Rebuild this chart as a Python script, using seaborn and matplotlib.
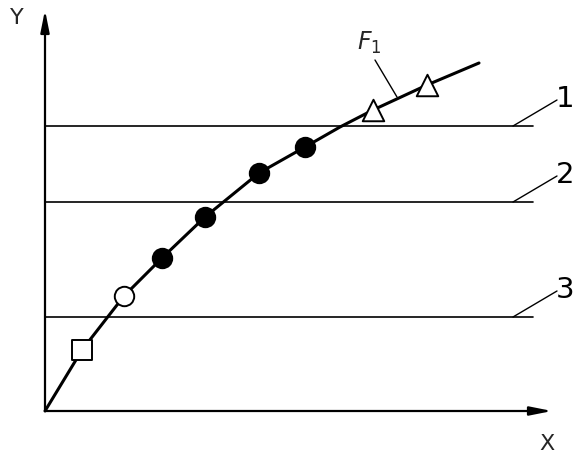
import matplotlib
matplotlib.use("Agg")
import matplotlib.pyplot as plt
import seaborn as sns
import pandas as pd

# Curve F1 (x, y in drawing units, origin at the axes corner)
curve_x = [0, 37, 79, 117, 160, 214, 260, 295, 328, 382, 434]
curve_y = [0, 61, 115, 153, 194, 238, 264, 284, 301, 326, 348]

# Marked points on the curve
square_x, square_y = [37], [61]
circle_x, circle_y = [79], [115]
dot_x = [117, 160, 214, 260]
dot_y = [153, 194, 238, 264]
tri_x = [328, 382]
tri_y = [301, 326]

# Horizontal levels and their labels
level_y = [285, 209, 94]
level_labels = ["1", "2", "3"]
level_x_end = 488

sns.set_style("white")
plt.rcParams["font.family"] = ["Liberation Sans Narrow", "DejaVu Sans"]

fig = plt.figure(figsize=(5.73, 4.55), dpi=100)
ax = fig.add_axes([0, 0, 1, 1])
ax.set_xlim(-45, 528)
ax.set_ylim(-44, 411)
ax.axis("off")

# Levels with leader lines and numbers
for y, lab in zip(level_y, level_labels):
    lev = pd.DataFrame({"x": [0, level_x_end], "y": [y, y]})
    sns.lineplot(data=lev, x="x", y="y", ax=ax, color="black", lw=1.2,
                 sort=False, estimator=None)
    ax.plot([468, 512], [y, y + 26], color="black", lw=1.0)
    ax.text(520, y + 27, lab, fontsize=21, ha="center", va="center",
            color="black")

# Curve
curve = pd.DataFrame({"x": curve_x, "y": curve_y})
sns.lineplot(data=curve, x="x", y="y", ax=ax, color="black", lw=2.2,
             sort=False, estimator=None, zorder=3)

# Markers
kw = dict(ax=ax, edgecolor="black", linewidth=1.4, zorder=4)
sns.scatterplot(x=square_x, y=square_y, marker="s", color="white", s=196, **kw)
sns.scatterplot(x=circle_x, y=circle_y, marker="o", color="white", s=196, **kw)
sns.scatterplot(x=dot_x, y=dot_y, marker="o", color="black", s=196, **kw)
sns.scatterplot(x=tri_x, y=tri_y, marker="^", color="white", s=240, **kw)

# F1 annotation
ax.plot([352, 330], [314, 351], color="black", lw=1.0)
ax.text(324, 368, r"$F_1$", fontsize=17, ha="center", va="center")

# Axes with arrows
arrow = dict(arrowstyle="-|>,head_length=0.6,head_width=0.12",
             mutation_scale=22, color="black", lw=1.6, shrinkA=0, shrinkB=0)
ax.annotate("", xy=(0, 401), xytext=(0, 0), arrowprops=arrow)
ax.annotate("", xy=(507, 0), xytext=(0, 0), arrowprops=arrow)
ax.text(-28, 393, "Y", fontsize=16, ha="center", va="center")
ax.text(502, -33, "X", fontsize=16, ha="center", va="center")

fig.savefig("out.png", dpi=100)
